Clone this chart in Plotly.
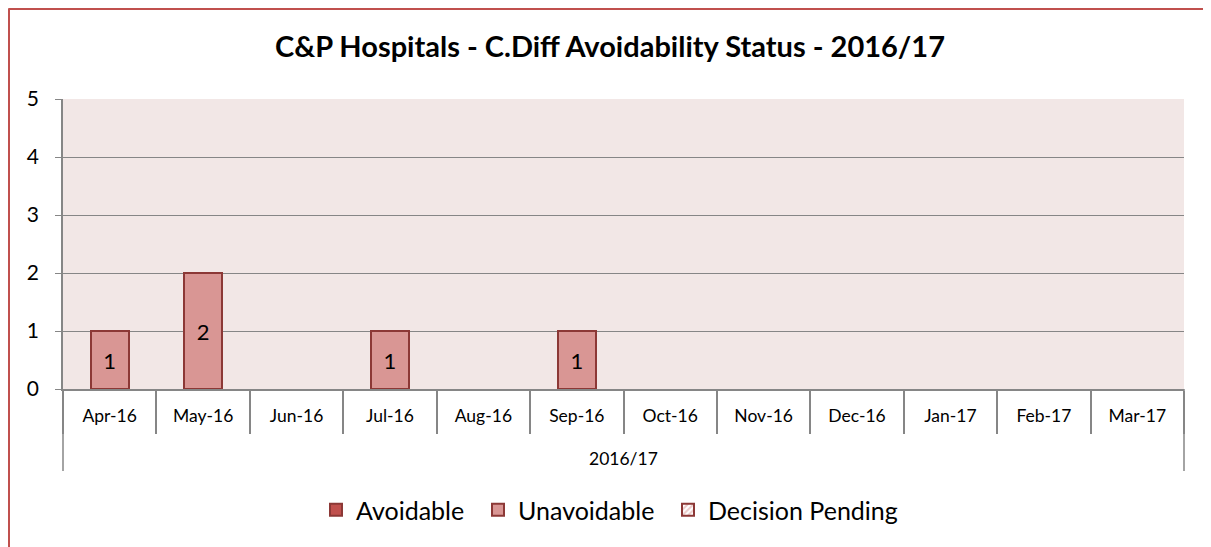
import plotly.graph_objects as go

months = ["Apr-16", "May-16", "Jun-16", "Jul-16", "Aug-16", "Sep-16",
          "Oct-16", "Nov-16", "Dec-16", "Jan-17", "Feb-17", "Mar-17"]
year_group = "2016/17"
avoidable = [0, 0, 0, 0, 0, 0, 0, 0, 0, 0, 0, 0]
unavoidable = [1, 2, 0, 1, 0, 1, 0, 0, 0, 0, 0, 0]
pending = [0, 0, 0, 0, 0, 0, 0, 0, 0, 0, 0, 0]
y_ticks = [0, 1, 2, 3, 4, 5]

FONT = "Lato, 'Open Sans', sans-serif"
AXIS = "#868686"
EDGE = "#8C3836"

# figure is offset 8px by the page body margin
OFF = 8
W, H = 1211 - OFF, 547 - OFF
L, R, T, B = 55, 27, 91, 158
PW, PH = W - L - R, H - T - B


def nz(vals):
    return [v if v else None for v in vals]


def lbl(vals):
    return [str(v) if v else "" for v in vals]


fig = go.Figure()
fig.add_trace(go.Bar(
    name="Avoidable", x=months, y=nz(avoidable), text=lbl(avoidable), legend="legend",
    marker=dict(color="#C0504D", line=dict(color=EDGE, width=2)),
))
fig.add_trace(go.Bar(
    name="Unavoidable", x=months, y=nz(unavoidable), text=lbl(unavoidable), legend="legend2",
    marker=dict(color="#D99694", line=dict(color=EDGE, width=2)),
))
fig.add_trace(go.Bar(
    name="Decision Pending", x=months, y=nz(pending), text=lbl(pending), legend="legend3",
    marker=dict(color="white", line=dict(color=EDGE, width=2),
                pattern=dict(shape="/", fgcolor="#D99694", bgcolor="white",
                             size=5, solidity=0.5)),
))
fig.update_traces(textposition="inside", insidetextanchor="middle", textangle=0,
                  textfont=dict(family=FONT, size=22, color="black"),
                  hoverinfo="skip")


def legend_at(text_x):
    # text_x: screen x where the legend text should start
    return dict(orientation="h", xref="container", yref="container",
                x=(text_x - OFF - 40) / W, xanchor="left",
                y=1 - (510 - OFF) / H, yanchor="middle",
                font=dict(family=FONT, size=25, color="black"),
                itemwidth=30, bgcolor="rgba(0,0,0,0)")


fig.update_layout(
    barmode="stack",
    bargap=0.593,
    width=W, height=H,
    margin=dict(l=L, r=R, t=T, b=B, autoexpand=False),
    paper_bgcolor="white",
    plot_bgcolor="#F2E7E6",
    title=dict(text="<b>C&P Hospitals - C.Diff Avoidability Status - 2016/17</b>",
               x=(610 - OFF) / W, xanchor="center", y=1 - (47 - OFF) / H, yanchor="middle",
               font=dict(family=FONT, size=29, color="black")),
    showlegend=True,
    legend=legend_at(356),
    legend2=legend_at(518),
    legend3=legend_at(708),
    font=dict(family=FONT, color="black"),
)
fig.update_yaxes(range=[0, 5], tickvals=y_ticks, showgrid=True, gridcolor=AXIS,
                 gridwidth=1, showline=True, linecolor=AXIS, linewidth=1.5,
                 ticks="outside", ticklen=6, tickcolor=AXIS, ticklabelstandoff=12,
                 tickfont=dict(family=FONT, size=21, color="black"), zeroline=False)
fig.update_xaxes(type="category", showline=True, linecolor=AXIS, linewidth=1.5,
                 ticks="outside", tickson="boundaries", ticklen=43, tickcolor=AXIS,
                 tickwidth=1.5, ticklabelstandoff=10,
                 tickfont=dict(family=FONT, size=17.5, color="black"), showgrid=False)

# outer dividers of the year group
low = -(471 - OFF - (T + PH)) / PH
for xp in (0, 1):
    fig.add_shape(type="line", xref="paper", yref="paper", x0=xp, x1=xp, y0=0, y1=low,
                  line=dict(color=AXIS, width=1.5))
fig.add_annotation(text=year_group, xref="paper", yref="paper", x=0.5,
                   y=-(458 - OFF - (T + PH)) / PH, yanchor="middle", showarrow=False,
                   font=dict(family=FONT, size=17.5, color="black"))

# red frame of the chart area (left and top edges visible)
fx = (0.5 - L) / PW
fy = 1 + (T - 0.5) / PH
fig.add_shape(type="line", xref="paper", yref="paper", x0=fx, x1=fx, y0=-2, y1=fy,
              line=dict(color="#C0504D", width=3))
fig.add_shape(type="line", xref="paper", yref="paper", x0=fx, x1=1.2, y0=fy, y1=fy,
              line=dict(color="#C0504D", width=3))

fig.write_html("out.html")
